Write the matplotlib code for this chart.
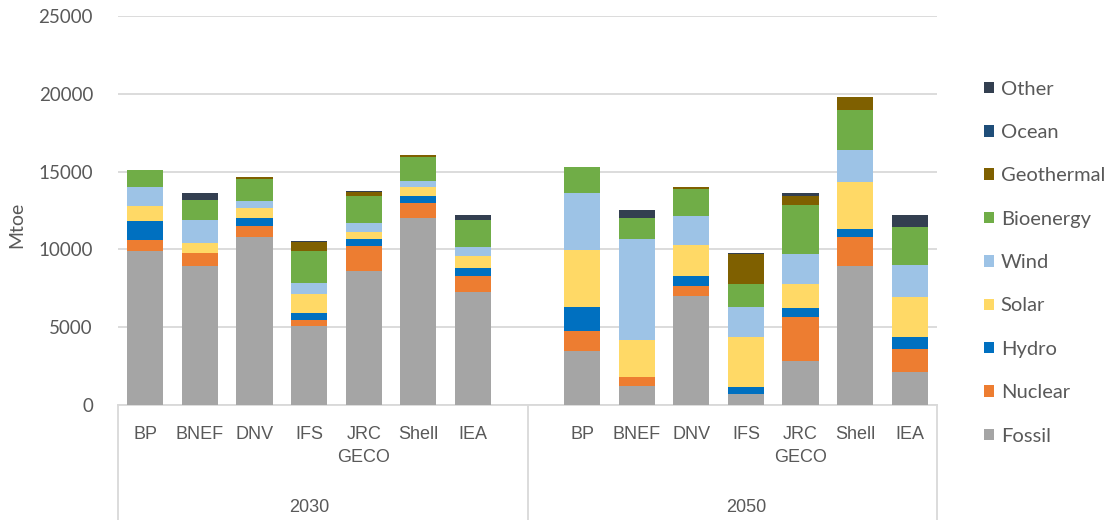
import matplotlib
matplotlib.use('Agg')
import matplotlib.pyplot as plt
import matplotlib.transforms as mtransforms
from matplotlib.patches import Patch
from matplotlib.lines import Line2D
import numpy as np

# scenario providers, same order in both years
sources = ['BP', 'BNEF', 'DNV', 'IFS', 'JRC\nGECO', 'Shell', 'IEA']
years = ['2030', '2050']

# Mtoe per energy source, 2030 then 2050
fossil_2030 = [9870, 8910, 10790, 5080, 8590, 12010, 7240]
nuclear_2030 = [710, 880, 730, 410, 1600, 1000, 1030]
hydro_2030 = [1220, 0, 490, 410, 470, 430, 510]
solar_2030 = [1020, 640, 620, 1260, 470, 550, 770]
wind_2030 = [1180, 1490, 490, 700, 560, 390, 600]
bio_2030 = [1110, 1260, 1410, 2010, 1750, 1540, 1770]
geo_2030 = [0, 0, 110, 590, 260, 130, 0]
ocean_2030 = [0, 0, 0, 0, 0, 0, 0]
other_2030 = [0, 430, 0, 80, 60, 0, 320]

fossil_2050 = [3440, 1200, 6990, 710, 2800, 8910, 2130]
nuclear_2050 = [1320, 620, 640, 0, 2860, 1900, 1460]
hydro_2050 = [1540, 0, 640, 420, 560, 470, 750]
solar_2050 = [3680, 2330, 1990, 3250, 1560, 3020, 2580]
wind_2050 = [3630, 6490, 1900, 1900, 1920, 2090, 2050]
bio_2050 = [1670, 1370, 1730, 1520, 3180, 2600, 2460]
geo_2050 = [0, 0, 100, 1890, 560, 820, 0]
ocean_2050 = [0, 0, 0, 0, 0, 0, 0]
other_2050 = [0, 490, 0, 100, 170, 0, 750]

series = [
    ('Fossil', fossil_2030, fossil_2050, '#A5A5A5'),
    ('Nuclear', nuclear_2030, nuclear_2050, '#ED7D31'),
    ('Hydro', hydro_2030, hydro_2050, '#0070C0'),
    ('Solar', solar_2030, solar_2050, '#FFD966'),
    ('Wind', wind_2030, wind_2050, '#9DC3E6'),
    ('Bioenergy', bio_2030, bio_2050, '#70AD47'),
    ('Geothermal', geo_2030, geo_2050, '#7F6000'),
    ('Ocean', ocean_2030, ocean_2050, '#1F4E79'),
    ('Other', other_2030, other_2050, '#333F50'),
]

plt.rcParams['font.family'] = ['Lato', 'DejaVu Sans']
grey_txt = '#595959'
grid_col = '#D9D9D9'
narrow = ['Liberation Sans Narrow', 'Liberation Sans', 'DejaVu Sans']

fig = plt.figure(figsize=(11.1, 5.2), dpi=100)
ax = fig.add_axes([118 / 1110, 1 - 405 / 520, (937 - 118) / 1110, (405 - 16) / 520])

n = len(sources)
x = np.concatenate([np.arange(n), np.arange(n) + n + 1])
bottom = np.zeros(len(x))
handles = []
for name, v30, v50, col in series:
    vals = np.array(v30 + v50, dtype=float)
    ax.bar(x, vals, bottom=bottom, width=0.66, color=col, linewidth=0, zorder=3)
    bottom += vals
    handles.append(Patch(facecolor=col, label=name))

ax.set_xlim(-0.5, 2 * n + 0.5)
ax.set_ylim(0, 25000)
ax.set_yticks(range(0, 25001, 5000))
ax.set_xticks([])
ax.yaxis.grid(True, color=grid_col, linewidth=1.3, zorder=0)
ax.set_axisbelow(True)
for s in ['top', 'right', 'left']:
    ax.spines[s].set_visible(False)
ax.spines['bottom'].set_color(grid_col)
ax.spines['bottom'].set_linewidth(1.3)
ax.tick_params(axis='y', length=0, pad=18, labelsize=13.5, labelcolor=grey_txt)

# multi-level category axis below the plot
trans = mtransforms.blended_transform_factory(ax.transData, fig.transFigure)
for xi, lab in zip(x, sources * 2):
    ax.text(xi, 1 - 426 / 520, lab, transform=trans, ha='center', va='top',
            fontsize=13, color=grey_txt, linespacing=1.5, family=narrow)
for gi, yr in enumerate(years):
    xc = gi * (n + 1) + (n - 1) / 2
    ax.text(xc, 1 - 507 / 520, yr, transform=trans, ha='center', va='center',
            fontsize=13, color=grey_txt, family=narrow)
for xs in [-0.5, n, 2 * n + 0.5]:
    ax.add_line(Line2D([xs, xs], [0, 1 - 405 / 520], transform=trans,
                       color=grid_col, linewidth=1.3, clip_on=False))

fig.text(17 / 1110, 1 - 225 / 520, 'Mtoe', rotation=90, ha='center', va='center',
         fontsize=14, color=grey_txt)

fig.legend(handles=handles[::-1], loc='center left', bbox_to_anchor=(0.877, 0.495),
           frameon=False, fontsize=14.5, handlelength=0.5, handleheight=0.5,
           handletextpad=0.35, labelspacing=1.31, borderpad=0, labelcolor=grey_txt)

fig.savefig('out.png', dpi=100)
